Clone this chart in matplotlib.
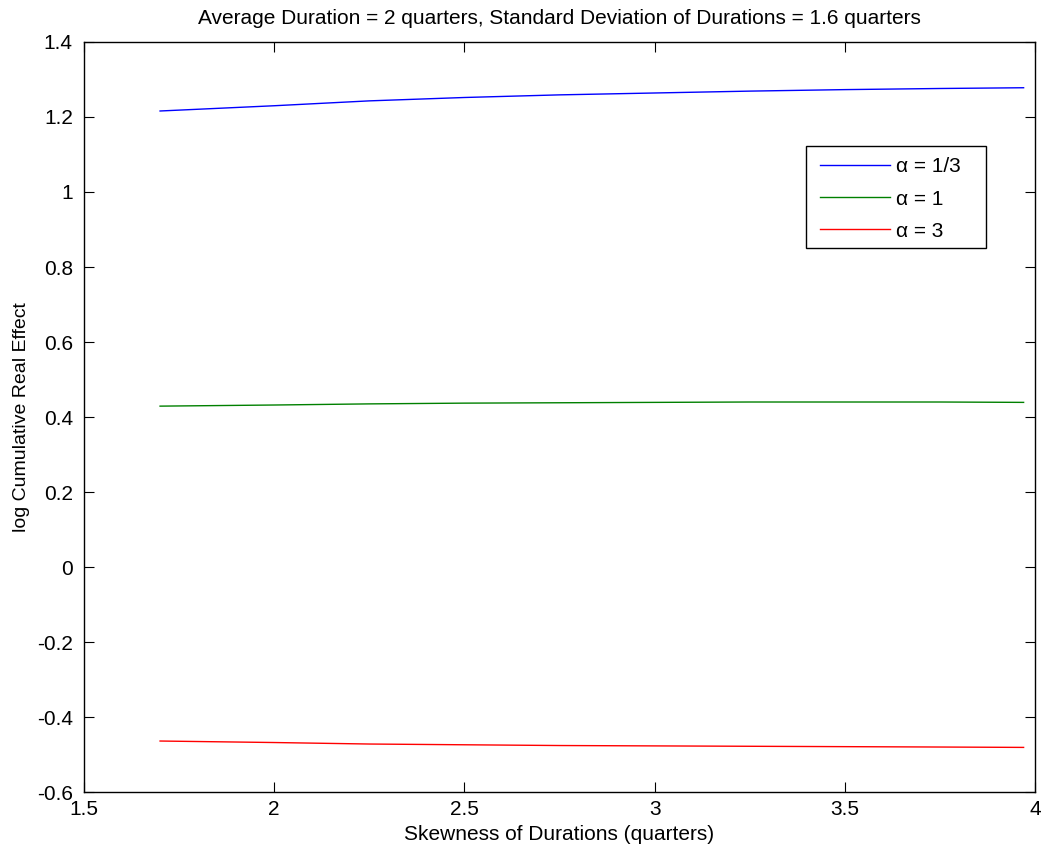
import matplotlib
matplotlib.use("Agg")
import matplotlib.pyplot as plt
from matplotlib.patches import Rectangle

plt.rcParams["font.family"] = ["Liberation Sans", "DejaVu Sans"]

# skewness of durations (quarters)
skew = [1.7, 2.0, 2.25, 2.5, 2.75, 3.0, 3.25, 3.5, 3.75, 3.97]
# log cumulative real effect for each alpha
eff_third = [1.216, 1.230, 1.243, 1.252, 1.259, 1.264, 1.269, 1.273, 1.276, 1.278]
eff_one = [0.429, 0.432, 0.435, 0.437, 0.438, 0.439, 0.440, 0.440, 0.440, 0.439]
eff_three = [-0.464, -0.468, -0.472, -0.474, -0.476, -0.477, -0.478, -0.479, -0.480, -0.481]

labels = ["\u03b1 = 1/3", "\u03b1 = 1", "\u03b1 = 3"]
xticks = [1.5, 2, 2.5, 3, 3.5, 4]
yticks = [-0.6, -0.4, -0.2, 0, 0.2, 0.4, 0.6, 0.8, 1, 1.2, 1.4]

fs = 15
fig = plt.figure(figsize=(10.42, 8.5), dpi=100)
ax = fig.add_axes([0.0806, 0.0682, 0.9127, 0.8824])

ax.plot(skew, eff_third, color="#0000ff", lw=1.0, label=labels[0])
ax.plot(skew, eff_one, color="#008000", lw=1.0, label=labels[1])
ax.plot(skew, eff_three, color="#ff0000", lw=1.0, label=labels[2])

ax.set_xlim(1.5, 4)
ax.set_ylim(-0.6, 1.4)
ax.set_xticks(xticks)
ax.set_xticklabels(["1.5", "2", "2.5", "3", "3.5", "4"])
ax.set_yticks(yticks)
ax.set_yticklabels(["-0.6", "-0.4", "-0.2", "0", "0.2", "0.4", "0.6", "0.8", "1", "1.2", "1.4"])
ax.tick_params(direction="in", length=7, width=0.8, top=True, right=True,
               labelsize=fs)
ax.tick_params(axis="x", pad=6)
ax.tick_params(axis="y", pad=8)
for sp in ax.spines.values():
    sp.set_linewidth(1.0)

ax.set_xlabel("Skewness of Durations (quarters)", fontsize=fs, labelpad=4)
ax.set_ylabel("log Cumulative Real Effect", fontsize=14, labelpad=5)
ax.set_title("Average Duration = 2 quarters, Standard Deviation of Durations = 1.6 quarters",
             fontsize=fs, pad=13)

# MATLAB-style legend box (wider on the right than matplotlib pads it)
box = Rectangle((0.7589, 0.7249), 0.1893, 0.1368, transform=ax.transAxes,
                facecolor="white", edgecolor="black", lw=1.0, zorder=4.9)
ax.add_patch(box)
leg = ax.legend(loc="upper left", bbox_to_anchor=(0.7739, 0.8460), fontsize=fs,
                handlelength=3.37, handletextpad=0.3, labelspacing=0.63,
                borderpad=0, borderaxespad=0, frameon=False)
leg.set_zorder(5)

fig.savefig("out.png", dpi=100)
